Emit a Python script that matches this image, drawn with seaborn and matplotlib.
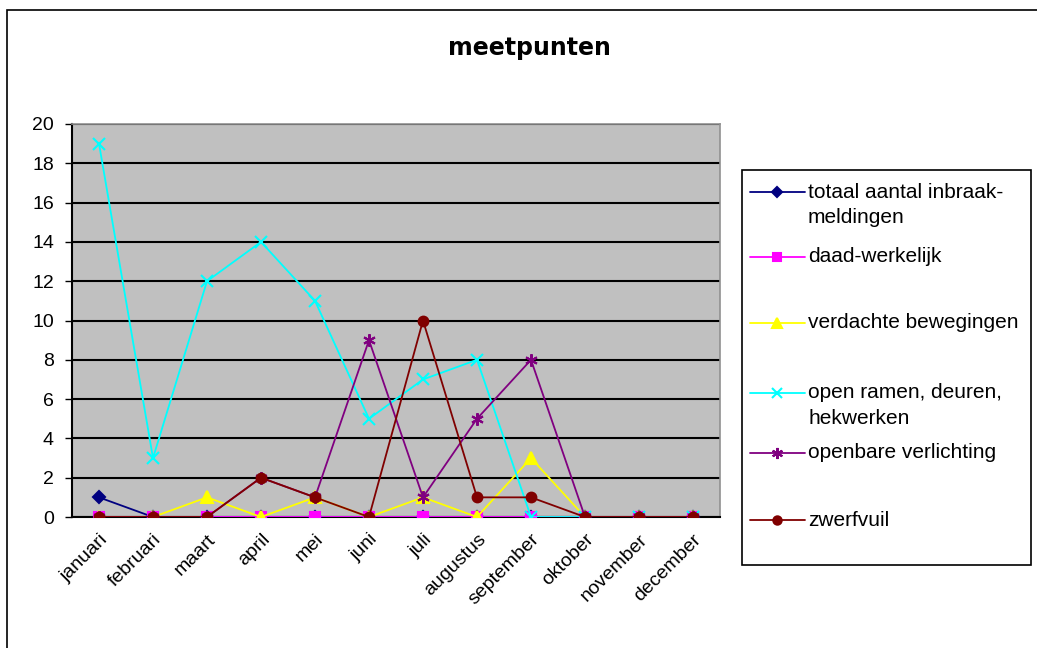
import numpy as np
import pandas as pd
import matplotlib
matplotlib.use('Agg')
import matplotlib.pyplot as plt
from matplotlib.lines import Line2D
from matplotlib.patches import Rectangle
import seaborn as sns

maanden = ['januari', 'februari', 'maart', 'april', 'mei', 'juni', 'juli',
           'augustus', 'september', 'oktober', 'november', 'december']

totaal_inbraak = [1, 0, 0, 0, 0, 0, 0, 0, 0, 0, 0, 0]
daad_werkelijk = [0, 0, 0, 0, 0, 0, 0, 0, 0, 0, 0, 0]
verdachte_bewegingen = [0, 0, 1, 0, 1, 0, 1, 0, 3, 0, 0, 0]
open_ramen = [19, 3, 12, 14, 11, 5, 7, 8, 0, 0, 0, 0]
openbare_verlichting = [0, 0, 0, 2, 1, 9, 1, 5, 8, 0, 0, 0]
zwerfvuil = [0, 0, 0, 2, 1, 0, 10, 1, 1, 0, 0, 0]

series_names = ['totaal aantal inbraak-meldingen', 'daad-werkelijk',
                'verdachte bewegingen', 'open ramen, deuren, hekwerken',
                'openbare verlichting', 'zwerfvuil']
legend_labels = [['totaal aantal inbraak-', 'meldingen'], ['daad-werkelijk'],
                 ['verdachte bewegingen'], ['open ramen, deuren,', 'hekwerken'],
                 ['openbare verlichting'], ['zwerfvuil']]
series_values = [totaal_inbraak, daad_werkelijk, verdachte_bewegingen,
                 open_ramen, openbare_verlichting, zwerfvuil]
colors = ['#000080', '#FF00FF', '#FFFF00', '#00FFFF', '#800080', '#800000']
markers = ['D', 's', '^', 'x', (6, 2, 0), 'o']
msizes = [6, 7, 8, 8, 9, 7]

rows = []
for name, vals in zip(series_names, series_values):
    for i, v in enumerate(vals):
        rows.append({'serie': name, 'maand': i, 'aantal': v})
df = pd.DataFrame(rows)

sns.set_style('white')
plt.rcParams['font.family'] = ['Liberation Sans', 'DejaVu Sans']
plt.rcParams['text.color'] = 'black'
plt.rcParams['xtick.color'] = 'black'
plt.rcParams['ytick.color'] = 'black'

fig = plt.figure(figsize=(10.37, 6.48), dpi=100)
ax = fig.add_axes([72 / 1037, 1 - 517 / 648, (720 - 72) / 1037, (517 - 124) / 648])
ax.set_facecolor('#C0C0C0')

for k, name in enumerate(series_names):
    sub = df[df['serie'] == name]
    sns.lineplot(data=sub, x='maand', y='aantal', ax=ax, color=colors[k],
                 marker=markers[k], markersize=msizes[k], linewidth=1.3,
                 markeredgecolor=colors[k], markeredgewidth=1.5, legend=False,
                 zorder=3 + k)

ax.set_xlim(-0.5, 11.5)
ax.set_ylim(0, 20)
ax.set_yticks(np.arange(0, 21, 2))
ax.set_yticklabels([str(v) for v in range(0, 21, 2)], fontsize=14, color='black')
ax.yaxis.grid(True, color='black', linewidth=1.5)
ax.set_axisbelow(True)
ax.set_xticks(np.arange(-0.5, 12, 1))
ax.set_xticklabels([])
ax.set_xticks(np.arange(12), minor=True)
ax.set_xticklabels(maanden, minor=True, rotation=45, ha='right',
                   rotation_mode='anchor', fontsize=14, color='black')
ax.tick_params(axis='x', which='minor', length=0, pad=10)
ax.tick_params(axis='x', which='major', length=5, width=1, direction='out', color='black')
ax.tick_params(axis='y', length=5, width=1, direction='out', color='black', left=True, pad=8)
ax.set_xlabel('')
ax.set_ylabel('')
for side in ['left', 'bottom']:
    ax.spines[side].set_color('black')
    ax.spines[side].set_linewidth(1.5)
for side in ['top', 'right']:
    ax.spines[side].set_color('#909090')
    ax.spines[side].set_linewidth(1.2)

fig.text(529 / 1037, 1 - 48 / 648, 'meetpunten', ha='center', va='center',
         fontsize=17, fontweight='bold', family='DejaVu Sans', color='black')

# legend drawn as in the original, marker aligned with the first text line
W, H = 1037, 648
fig.patches.append(Rectangle((742 / W, 1 - 565 / H), (1031 - 742) / W, (565 - 170) / H,
                             transform=fig.transFigure, fill=False,
                             edgecolor='black', linewidth=1.2))
entry_y = [192, 257, 323, 393, 453, 520]
for k, y in enumerate(entry_y):
    yf = 1 - y / H
    fig.lines.append(Line2D([750 / W, 805 / W], [yf, yf], transform=fig.transFigure,
                            color=colors[k], linewidth=1.3))
    fig.lines.append(Line2D([777 / W], [yf], transform=fig.transFigure,
                            color=colors[k], marker=markers[k], markersize=msizes[k] - 1,
                            markeredgecolor=colors[k], markeredgewidth=1.5))
    for j, line in enumerate(legend_labels[k]):
        fig.text(808 / W, 1 - (y + 26 * j) / H, line, ha='left', va='center',
                 fontsize=15, color='black')

fig.patches.append(Rectangle((7 / W, -0.05), 1.1, 1 - 10 / H + 0.05,
                             transform=fig.transFigure, fill=False,
                             edgecolor='black', linewidth=1.2))

fig.savefig('out.png', dpi=100)
